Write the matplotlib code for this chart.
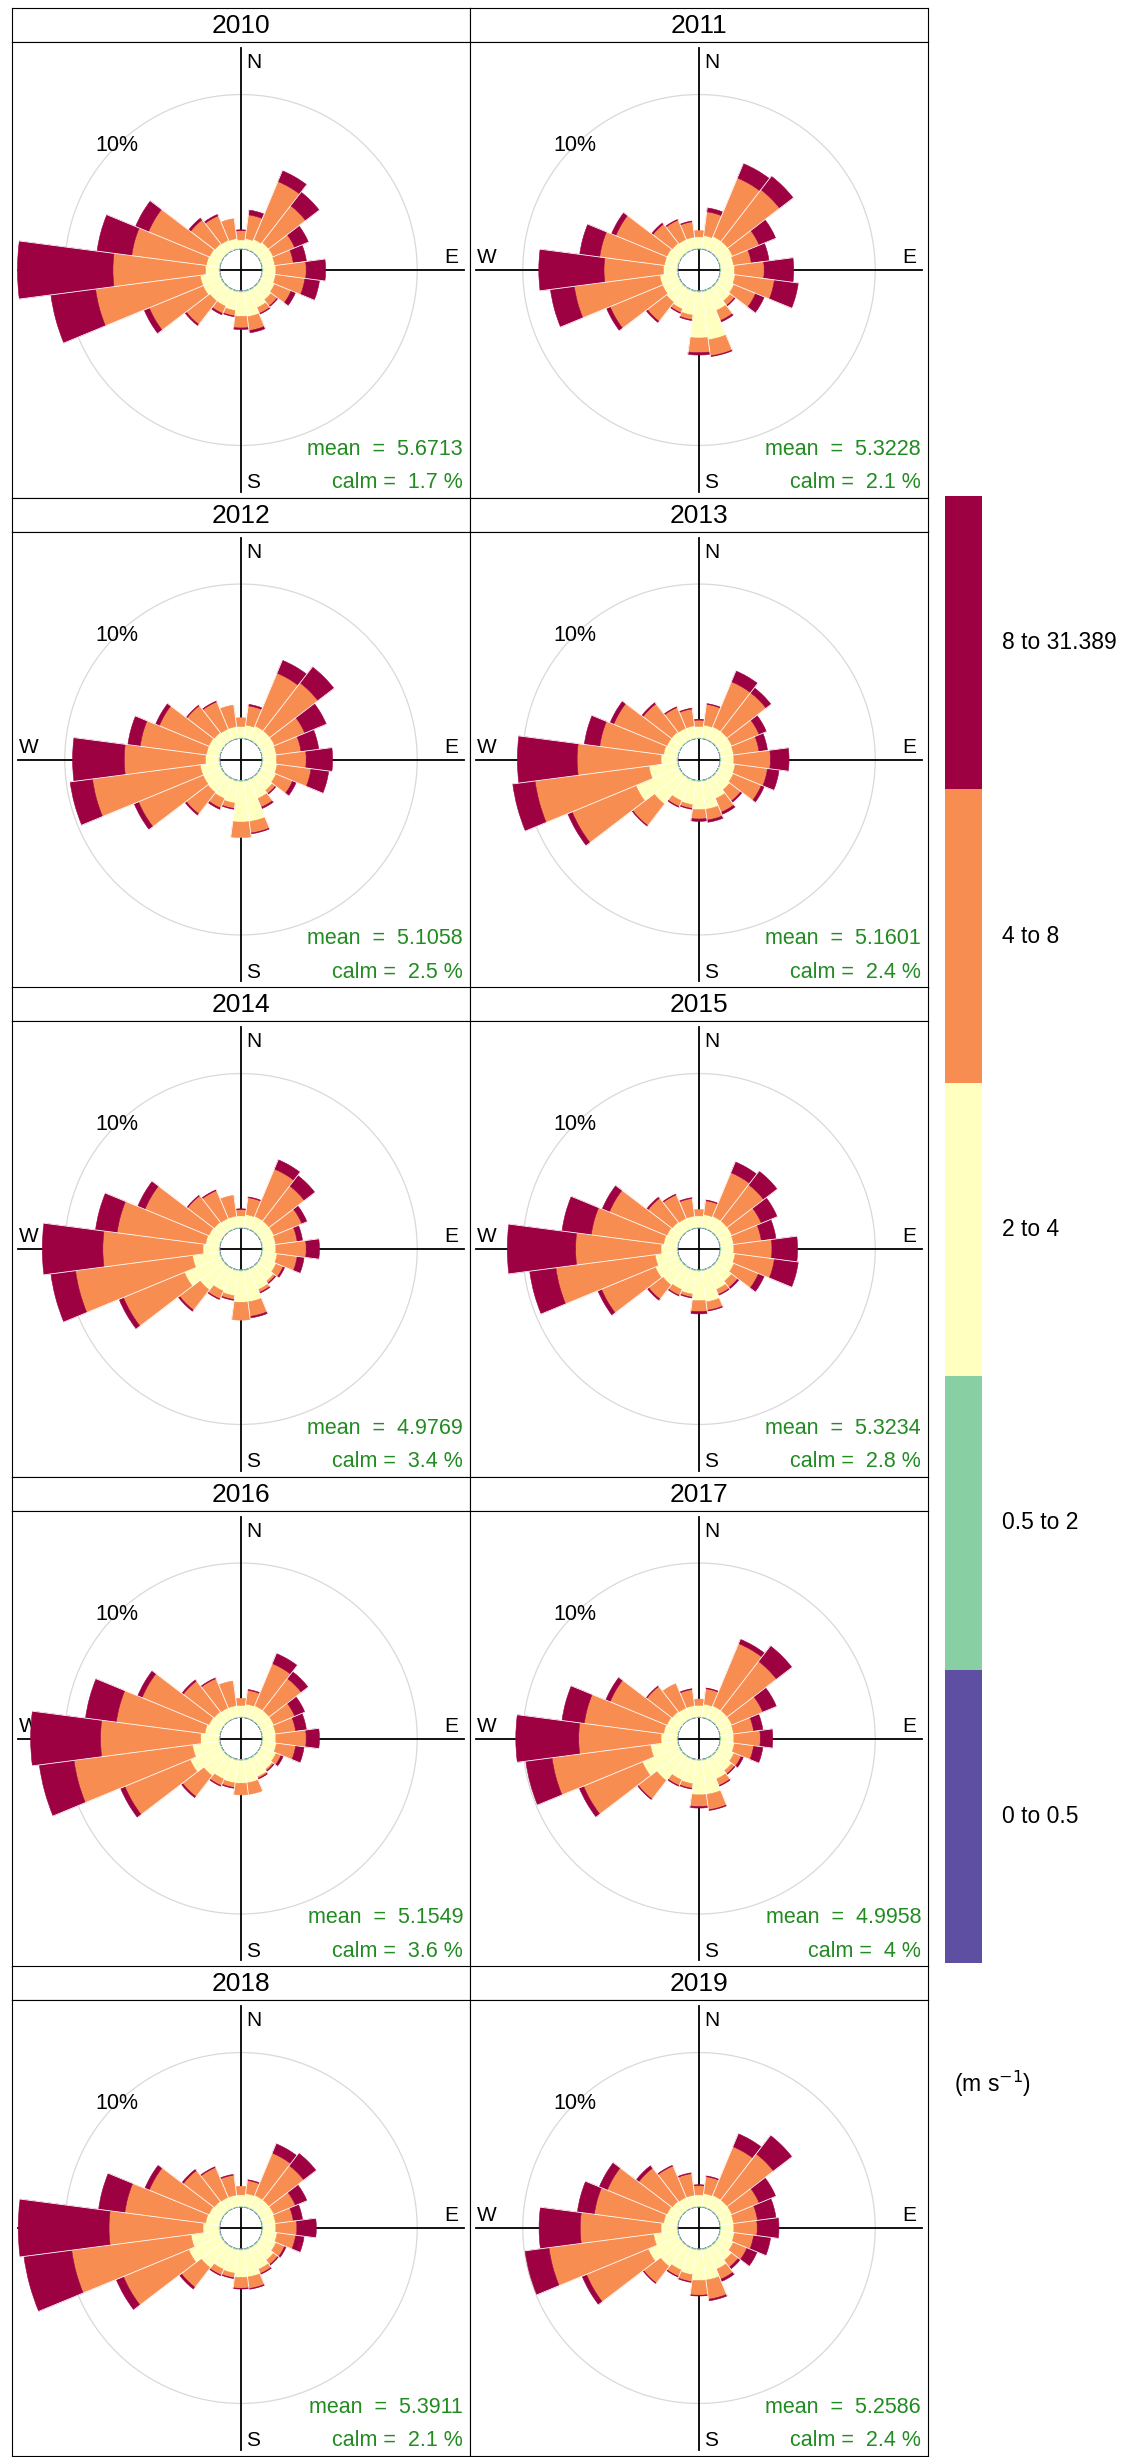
import numpy as np
import matplotlib
matplotlib.use("Agg")
import matplotlib.pyplot as plt
from matplotlib.patches import Wedge, Circle, Rectangle

plt.rcParams['font.family'] = ['Liberation Sans', 'DejaVu Sans']

# yearly wind roses, 15 degree sectors, frequencies in percent
years = [2010, 2011, 2012, 2013, 2014, 2015, 2016, 2017, 2018, 2019]
directions = np.arange(0, 360, 15)
mean_speed = [5.6713, 5.3228, 5.1058, 5.1601, 4.9769, 5.3234, 5.1549, 4.9958, 5.3911, 5.2586]
calm_pct = [1.7, 2.1, 2.5, 2.4, 3.4, 2.8, 3.6, 4, 2.1, 2.4]

bin_labels = ['0 to 0.5', '0.5 to 2', '2 to 4', '4 to 8', '8 to 31.389']
bin_colors = ['#5E4FA2', '#88CFA4', '#FFFFBF', '#F88D52', '#9E0142']

# cumulative frequency (%) below 0.5 and 2 m/s, by direction
cum_below05 = [0.01, 0.02, 0.02, 0.02, 0.02, 0.02, 0.02, 0.01, 0.01, 0.01, 0.01, 0.01,
               0.01, 0.01, 0.01, 0.01, 0.02, 0.02, 0.02, 0.02, 0.02, 0.01, 0.01, 0.01]
cum_below2 = [0.07, 0.08, 0.08, 0.08, 0.08, 0.08, 0.08, 0.08, 0.08, 0.09, 0.09, 0.10,
              0.10, 0.10, 0.09, 0.09, 0.09, 0.09, 0.08, 0.08, 0.07, 0.07, 0.07, 0.07]

# cumulative frequency (%) below 4 m/s, one row per year
cum_below4 = [
    [0.6, 0.7, 0.8, 0.9, 0.9, 0.85, 0.9, 0.9, 1.0, 1.1, 1.3, 1.7, 1.65, 1.3, 1.2, 1.2, 1.3, 1.3, 0.95, 0.9, 0.85, 0.8, 0.75, 0.7],
    [0.8, 0.9, 1.0, 1.0, 1.0, 0.9, 0.95, 1.0, 1.1, 1.2, 1.5, 3.2, 3.05, 1.6, 1.4, 1.3, 1.2, 1.2, 0.95, 0.9, 0.9, 0.85, 0.8, 0.8],
    [0.8, 0.9, 1.0, 1.0, 1.0, 0.95, 0.95, 1.0, 1.1, 1.2, 1.4, 2.7, 2.7, 1.5, 1.4, 1.35, 1.3, 1.3, 0.95, 0.9, 0.9, 0.85, 0.8, 0.8],
    [0.8, 0.9, 0.95, 0.95, 0.95, 0.9, 0.9, 1.0, 1.05, 1.15, 1.4, 1.9, 1.9, 1.6, 1.55, 2.3, 3.05, 1.9, 1.1, 0.95, 0.9, 0.9, 0.85, 0.85],
    [0.8, 0.9, 0.95, 0.95, 0.95, 0.9, 0.9, 1.0, 1.1, 1.3, 1.5, 2.1, 2.1, 1.7, 1.6, 2.0, 2.6, 1.8, 1.1, 0.95, 0.9, 0.85, 0.8, 0.8],
    [0.8, 0.9, 0.95, 0.95, 0.95, 0.9, 0.9, 1.0, 1.1, 1.3, 1.5, 2.1, 2.0, 1.6, 1.5, 1.6, 1.7, 1.5, 1.1, 0.95, 0.9, 0.85, 0.8, 0.8],
    [0.8, 0.9, 0.95, 0.95, 0.95, 0.9, 0.9, 0.95, 1.1, 1.2, 1.35, 1.55, 1.55, 1.55, 1.5, 1.7, 2.2, 1.8, 1.25, 1.0, 0.9, 0.85, 0.8, 0.8],
    [0.8, 0.9, 0.95, 0.95, 0.95, 0.9, 0.9, 0.95, 1.1, 1.3, 1.5, 2.3, 2.3, 1.6, 1.55, 2.1, 2.6, 1.8, 1.1, 0.95, 0.9, 0.85, 0.8, 0.8],
    [0.8, 0.9, 0.95, 0.95, 0.95, 0.9, 0.9, 1.0, 1.1, 1.3, 1.55, 1.85, 1.85, 1.6, 1.55, 1.9, 2.3, 1.9, 1.1, 0.95, 0.9, 0.85, 0.8, 0.8],
    [0.8, 0.9, 0.95, 0.95, 0.95, 0.9, 0.9, 0.95, 1.05, 1.3, 1.55, 2.05, 2.05, 1.7, 1.6, 1.8, 2.2, 1.6, 1.1, 0.95, 0.9, 0.85, 0.8, 0.8],
]

# cumulative frequency (%) below 8 m/s
cum_below8 = [
    [1.2, 2.25, 4.85, 3.9, 2.4, 2.05, 2.85, 2.8, 2.15, 1.6, 1.7, 2.6, 2.4, 1.65, 1.7, 3.1, 5.05, 8.1, 6.9, 5.75, 5.1, 2.75, 2.45, 2.0],
    [1.2, 2.45, 5.1, 5.2, 2.85, 2.05, 2.85, 3.55, 2.6, 1.55, 2.2, 4.25, 4.0, 1.9, 1.65, 2.85, 4.85, 6.75, 4.77, 5.1, 4.45, 2.4, 2.15, 1.8],
    [1.35, 2.15, 4.7, 4.9, 3.1, 2.55, 2.85, 3.2, 2.25, 1.45, 2.0, 3.45, 3.7, 1.85, 2.05, 3.1, 5.8, 8.3, 6.17, 5.2, 4.35, 3.05, 2.7, 2.2],
    [1.2, 2.25, 4.1, 4.1, 2.85, 2.55, 3.25, 3.1, 3.0, 2.05, 2.35, 2.6, 2.5, 1.85, 1.95, 4.05, 7.5, 9.3, 6.5, 5.1, 4.6, 3.2, 2.3, 1.95],
    [1.2, 2.0, 4.25, 3.8, 2.9, 2.3, 2.85, 2.3, 1.6, 1.45, 1.7, 3.05, 3.25, 1.95, 2.15, 3.65, 6.85, 9.4, 7.55, 6.7, 5.35, 3.0, 2.75, 2.15],
    [1.2, 1.8, 4.0, 3.9, 3.0, 2.7, 3.35, 3.55, 2.8, 1.8, 1.85, 2.65, 2.7, 1.8, 1.9, 2.75, 5.45, 7.95, 6.6, 5.65, 4.9, 2.8, 2.45, 1.95],
    [1.25, 1.8, 3.9, 3.55, 2.4, 2.2, 2.85, 2.2, 1.45, 1.3, 1.45, 2.3, 2.3, 1.85, 1.95, 3.4, 6.75, 9.5, 7.7, 6.75, 5.55, 3.35, 2.85, 2.4],
    [1.2, 1.9, 5.3, 4.95, 3.1, 2.2, 2.6, 2.2, 1.6, 1.55, 1.95, 3.3, 3.05, 1.9, 1.95, 3.6, 6.7, 8.2, 6.4, 6.1, 4.85, 2.9, 2.5, 1.85],
    [1.35, 1.75, 3.9, 3.75, 2.45, 2.05, 2.25, 2.2, 1.7, 1.65, 1.85, 2.6, 2.55, 1.9, 1.95, 3.5, 6.85, 9.65, 7.15, 6.2, 5.05, 3.35, 2.9, 2.1],
    [1.4, 2.0, 4.35, 4.7, 2.85, 2.45, 2.4, 2.2, 2.0, 1.85, 2.25, 3.3, 3.0, 2.15, 2.05, 3.15, 6.5, 8.4, 6.3, 5.45, 5.05, 3.55, 3.0, 2.2],
]

# total frequency (%) per direction
freq_total = [
    [1.25, 2.56, 5.6, 5.0, 3.35, 2.9, 4.1, 3.75, 2.45, 1.65, 1.75, 2.75, 2.5, 1.7, 1.8, 3.2, 5.4, 11.0, 13.05, 8.0, 6.0, 2.9, 2.55, 2.0],
    [1.2, 2.7, 6.1, 6.3, 4.0, 3.2, 4.75, 5.1, 3.2, 1.6, 2.3, 4.3, 4.15, 1.95, 1.7, 2.95, 5.1, 8.3, 8.97, 6.4, 4.75, 2.5, 2.2, 1.85],
    [1.35, 2.25, 5.6, 6.2, 4.6, 3.7, 4.55, 4.35, 2.5, 1.5, 2.1, 3.5, 3.7, 1.9, 2.15, 3.2, 6.1, 9.75, 9.5, 6.0, 4.6, 3.1, 2.75, 2.2],
    [1.25, 2.3, 4.85, 4.5, 3.35, 3.1, 4.45, 3.85, 3.2, 2.15, 2.5, 2.75, 2.65, 1.9, 2.0, 4.1, 7.8, 10.75, 10.35, 6.1, 4.85, 3.3, 2.35, 2.0],
    [1.25, 2.05, 4.9, 4.65, 3.25, 2.65, 3.7, 2.75, 1.7, 1.5, 1.75, 3.15, 3.25, 2.0, 2.2, 3.75, 7.15, 11.0, 11.45, 8.1, 5.85, 3.05, 2.8, 2.15],
    [1.2, 1.85, 4.75, 5.0, 4.1, 3.65, 5.0, 5.1, 3.2, 1.9, 1.9, 2.7, 2.85, 1.85, 1.95, 2.85, 5.7, 9.65, 11.0, 7.55, 5.4, 2.9, 2.5, 2.0],
    [1.25, 1.85, 4.6, 4.1, 3.1, 2.9, 3.7, 2.75, 1.6, 1.35, 1.5, 2.3, 2.3, 1.9, 2.0, 3.5, 7.05, 11.75, 12.2, 8.75, 5.85, 3.45, 2.9, 2.4],
    [1.2, 1.95, 5.6, 6.2, 4.05, 2.8, 3.4, 2.8, 1.75, 1.6, 2.0, 3.35, 3.15, 1.95, 2.0, 3.65, 7.0, 9.9, 10.45, 7.55, 5.15, 2.95, 2.5, 1.9],
    [1.35, 1.8, 4.55, 4.75, 3.25, 2.65, 3.5, 2.75, 1.8, 1.7, 1.9, 2.65, 2.6, 1.95, 2.0, 3.65, 7.35, 12.75, 13.0, 7.9, 5.35, 3.45, 2.95, 2.15],
    [1.45, 2.05, 5.25, 6.2, 4.0, 3.65, 3.8, 3.3, 2.7, 2.0, 2.4, 3.4, 3.05, 2.2, 2.1, 3.2, 6.8, 9.95, 8.95, 6.55, 5.6, 3.75, 3.05, 2.25],
]

W, H = 1139, 2457
fig = plt.figure(figsize=(W / 100, H / 100), dpi=100)


def add_px_axes(x0, y0, w, h):
    # place an axes using pixel coordinates measured from the top-left
    return fig.add_axes([x0 / W, 1 - (y0 + h) / H, w / W, h / H])


OFFSET = 1.35   # empty centre of each rose, in % units
LIM = 14.75
HALF = 7.5      # half sector width in degrees
PANEL_W = 458
STRIP_H = 34

for i, year in enumerate(years):
    row, col = divmod(i, 2)
    x0 = 12 + col * PANEL_W
    y0 = 8 + row * 489.5

    strip = add_px_axes(x0, y0, PANEL_W, STRIP_H)
    strip.set_xticks([])
    strip.set_yticks([])
    strip.text(0.5, 0.47, str(year), ha='center', va='center', fontsize=19,
               transform=strip.transAxes)

    ax = add_px_axes(x0, y0 + STRIP_H, PANEL_W, 456)
    ax.set_xlim(-LIM, LIM)
    ax.set_ylim(-LIM, LIM)
    ax.set_xticks([])
    ax.set_yticks([])

    # 10 % grid ring
    r10 = OFFSET + 10
    ax.add_patch(Circle((0, 0), r10, fill=False, ec='#d9d9d9', lw=0.9, zorder=1))
    ax.text(-r10 * np.sin(np.pi / 4), r10 * np.cos(np.pi / 4), '10%',
            ha='center', va='center', fontsize=15.5, zorder=1)

    ax.plot([-14.35, 14.35], [0, 0], color='black', lw=1.3, zorder=2)
    ax.plot([0, 0], [-14.35, 14.35], color='black', lw=1.3, zorder=2)
    ax.text(0.32, 13.4, 'N', ha='left', va='center', fontsize=15, zorder=2)
    ax.text(0.32, -13.75, 'S', ha='left', va='center', fontsize=15, zorder=2)
    ax.text(13.55, 0.8, 'E', ha='center', va='center', fontsize=15, zorder=2)
    ax.text(-13.65, 0.8, 'W', ha='center', va='center', fontsize=15, zorder=2)

    edges = np.vstack([np.zeros(len(directions)), cum_below05, cum_below2,
                       cum_below4[i], cum_below8[i], freq_total[i]])
    for j, d in enumerate(directions):
        t1, t2 = 90 - d - HALF, 90 - d + HALF
        for k in range(5):
            r_in, r_out = OFFSET + edges[k, j], OFFSET + edges[k + 1, j]
            if r_out <= r_in:
                continue
            ax.add_patch(Wedge((0, 0), r_out, t1, t2, width=r_out - r_in,
                               fc=bin_colors[k], ec=bin_colors[k], lw=0.4, zorder=3))

    # thin white seams between neighbouring sectors
    tot = np.asarray(freq_total[i])
    for j, d in enumerate(directions):
        rmax = OFFSET + max(tot[j], tot[(j + 1) % len(directions)])
        a = np.deg2rad(d + HALF)
        ax.plot([OFFSET * np.sin(a), rmax * np.sin(a)],
                [OFFSET * np.cos(a), rmax * np.cos(a)],
                color='white', lw=0.6, zorder=4)

    ax.text(14.3, -11.6, f'mean  =  {mean_speed[i]:.4f}', ha='right', va='center',
            color='forestgreen', fontsize=15.5, zorder=5)
    ax.text(14.3, -13.75, f'calm =  {calm_pct[i]:g} %', ha='right', va='center',
            color='forestgreen', fontsize=15.5, zorder=5)

# colour key
cb_top, cb_h = 496, 1467
cb = add_px_axes(945, cb_top, 37, cb_h)
cb.set_xlim(0, 1)
cb.set_ylim(0, len(bin_labels))
cb.axis('off')
block = cb_h / len(bin_labels)
for k, (lab, colr) in enumerate(zip(bin_labels, bin_colors)):
    cb.add_patch(Rectangle((0, k), 1, 1, fc=colr, ec='none'))
    yc = cb_top + (len(bin_labels) - k - 0.5) * block
    fig.text(1002 / W, 1 - yc / H, lab, ha='left', va='center', fontsize=16.5)

fig.text(954 / W, 1 - 2084 / H, '(m s$^{-1}$)', ha='left', va='center', fontsize=16.5)

fig.savefig('out.png', dpi=100)
